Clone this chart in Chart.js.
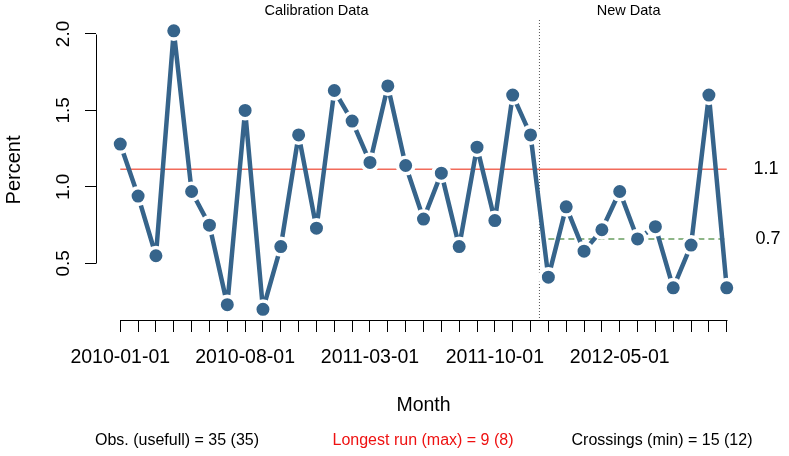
<!DOCTYPE html>
<html>
<head>
<meta charset="utf-8">
<script src="https://cdn.jsdelivr.net/npm/chart.js@4.4.0/dist/chart.umd.min.js"></script>
<style>
  html, body { margin: 0; padding: 0; background: #fff; }
</style>
</head>
<body>
<canvas id="chart" width="789" height="456"></canvas>
<script>
// run chart data, monthly percent
const MONTHS = [
  '2010-01-01','2010-02-01','2010-03-01','2010-04-01','2010-05-01','2010-06-01',
  '2010-07-01','2010-08-01','2010-09-01','2010-10-01','2010-11-01','2010-12-01',
  '2011-01-01','2011-02-01','2011-03-01','2011-04-01','2011-05-01','2011-06-01',
  '2011-07-01','2011-08-01','2011-09-01','2011-10-01','2011-11-01','2011-12-01',
  '2012-01-01','2012-02-01','2012-03-01','2012-04-01','2012-05-01','2012-06-01',
  '2012-07-01','2012-08-01','2012-09-01','2012-10-01','2012-11-01'
];
const PERCENT = [
  1.28, 0.94, 0.55, 2.02, 0.97, 0.75, 0.23, 1.50, 0.20, 0.61, 1.34, 0.73,
  1.63, 1.43, 1.16, 1.66, 1.14, 0.79, 1.09, 0.61, 1.26, 0.78, 1.60, 1.34,
  0.41, 0.87, 0.58, 0.72, 0.97, 0.66, 0.74, 0.34, 0.62, 1.60, 0.34
];
const LABELLED_MONTHS = ['2010-01-01','2010-08-01','2011-03-01','2011-10-01','2012-05-01'];
const Y_TICKS = [0.5, 1.0, 1.5, 2.0];

const CALIB_COUNT = 24;        // first 24 months are calibration data
const CALIB_MEDIAN = 1.115;
const NEW_MEDIAN = 0.66;
const MEDIAN_LABELS = ['1.1', '0.7'];

const STATS = [
  { text: 'Obs. (usefull) = 35 (35)', x: 177, color: '#000' },
  { text: 'Longest run (max) = 9 (8)', x: 423, color: '#ee1111' },
  { text: 'Crossings (min) = 15 (12)', x: 662, color: '#000' }
];

const LINE_COLOR = '#36648b';
const FONT = 'Liberation Sans, Arial, sans-serif';

Chart.defaults.font.family = FONT;
Chart.defaults.color = '#000';

const last = MONTHS.length - 1;
const split = CALIB_COUNT - 0.5;

// extra drawing: R style axis lines, rotated y labels, part titles, stats
const decor = {
  id: 'decor',
  afterDraw(chart) {
    const { ctx, chartArea } = chart;
    const x = chart.scales.x, y = chart.scales.y;
    ctx.save();
    ctx.strokeStyle = '#000';
    ctx.lineWidth = 1;
    ctx.beginPath();
    const yb = Math.round(chartArea.bottom) + 0.5;
    ctx.moveTo(Math.round(x.getPixelForValue(0)) + 0.5, yb);
    ctx.lineTo(Math.round(x.getPixelForValue(last)) + 0.5, yb);
    const xl = Math.round(chartArea.left) + 0.5;
    ctx.moveTo(xl, Math.round(y.getPixelForValue(Y_TICKS[0])) + 0.5);
    ctx.lineTo(xl, Math.round(y.getPixelForValue(Y_TICKS[Y_TICKS.length - 1])) + 0.5);
    ctx.stroke();

    ctx.fillStyle = '#000';
    ctx.textAlign = 'center';
    ctx.textBaseline = 'middle';
    ctx.font = '19px ' + FONT;
    Y_TICKS.forEach(v => {
      ctx.save();
      ctx.translate(63, y.getPixelForValue(v));
      ctx.rotate(-Math.PI / 2);
      ctx.fillText(v.toFixed(1), 0, 1);
      ctx.restore();
    });

    ctx.font = '14.5px ' + FONT;
    ctx.fillText('Calibration Data', x.getPixelForValue(11), 11);
    ctx.fillText('New Data', x.getPixelForValue(28.5), 11);

    ctx.font = '18px ' + FONT;
    ctx.fillText(MEDIAN_LABELS[0], 766, y.getPixelForValue(CALIB_MEDIAN));
    ctx.fillText(MEDIAN_LABELS[1], 768, y.getPixelForValue(NEW_MEDIAN));

    ctx.font = '16px ' + FONT;
    STATS.forEach(s => {
      ctx.fillStyle = s.color;
      ctx.fillText(s.text, s.x, 441);
    });
    ctx.restore();
  }
};

new Chart(document.getElementById('chart'), {
  type: 'line',
  data: {
    datasets: [
      {
        data: PERCENT.map((v, i) => ({ x: i, y: v })),
        borderColor: LINE_COLOR,
        borderWidth: 4.5,
        borderJoinStyle: 'round',
        borderCapStyle: 'round',
        pointRadius: 8.3,
        pointBackgroundColor: LINE_COLOR,
        pointBorderColor: '#fff',
        pointBorderWidth: 3.6,
        tension: 0
      },
      {
        data: [{ x: 0, y: CALIB_MEDIAN }, { x: last, y: CALIB_MEDIAN }],
        borderColor: '#f26b5b',
        borderWidth: 1.5,
        pointRadius: 0
      },
      {
        data: [{ x: CALIB_COUNT, y: NEW_MEDIAN }, { x: last, y: NEW_MEDIAN }],
        borderColor: '#6a9f60',
        borderWidth: 1.5,
        borderDash: [6, 4],
        pointRadius: 0
      },
      {
        data: [{ x: split, y: 2.091 }, { x: split, y: 0.13 }],
        borderColor: '#555',
        borderWidth: 1,
        borderDash: [1, 2],
        pointRadius: 0
      }
    ]
  },
  options: {
    responsive: false,
    animation: false,
    layout: { padding: { left: 0, top: 20, right: 38, bottom: 30 } },
    plugins: { legend: { display: false }, tooltip: { enabled: false } },
    scales: {
      x: {
        type: 'linear',
        min: -1.36,
        max: 35.36,
        afterBuildTicks: s => { s.ticks = MONTHS.map((m, i) => ({ value: i })); },
        afterFit: s => { s.height = 106; },
        border: { display: false },
        grid: { drawOnChartArea: false, drawTicks: true, tickLength: 12, color: '#000', lineWidth: 1 },
        ticks: {
          autoSkip: false,
          maxRotation: 0,
          padding: 14,
          font: { size: 19.5 },
          callback: v => LABELLED_MONTHS.includes(MONTHS[v]) ? MONTHS[v] : ''
        },
        title: { display: true, text: 'Month', font: { size: 19.5 }, padding: { top: 0, bottom: 9 } }
      },
      y: {
        type: 'linear',
        min: 0.13,
        max: 2.091,
        afterBuildTicks: s => { s.ticks = Y_TICKS.map(v => ({ value: v })); },
        afterFit: s => { s.width = 96; },
        border: { display: false },
        grid: { drawOnChartArea: false, drawTicks: true, tickLength: 11, color: '#000', lineWidth: 1 },
        ticks: { callback: () => '' },
        title: { display: true, text: 'Percent', font: { size: 20 }, padding: { top: 2, bottom: 0 } }
      }
    }
  },
  plugins: [decor]
});
</script>
</body>
</html>
